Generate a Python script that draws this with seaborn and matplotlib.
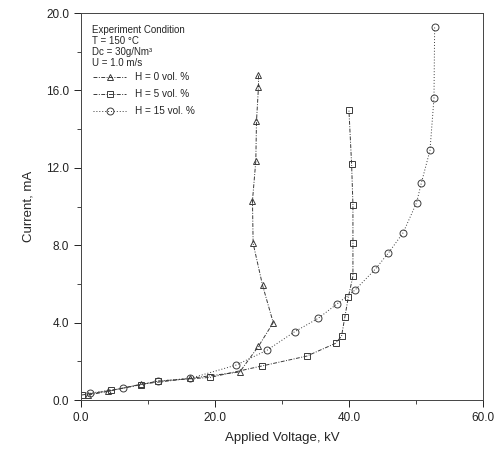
import matplotlib
matplotlib.use("Agg")
import matplotlib.pyplot as plt
import seaborn as sns
import pandas as pd
from matplotlib.ticker import MultipleLocator, FormatStrFormatter

# Data
h0_voltage = [1.1, 4.1, 9.0, 16.3, 23.7, 26.5, 28.7, 27.1, 25.7, 25.6, 26.1, 26.2, 26.5, 26.5]
h0_current = [0.26, 0.45, 0.82, 1.12, 1.45, 2.78, 4.0, 5.94, 8.1, 10.3, 12.35, 14.4, 16.2, 16.8]

h5_voltage = [0.1, 4.5, 9.0, 11.5, 19.3, 27.0, 33.7, 38.0, 38.9, 39.4, 39.9, 40.6, 40.6, 40.6, 40.4, 40.0]
h5_current = [0.26, 0.5, 0.8, 0.98, 1.17, 1.76, 2.27, 2.93, 3.3, 4.3, 5.3, 6.4, 8.1, 10.1, 12.2, 15.0]

h15_voltage = [1.3, 6.2, 11.5, 16.3, 23.2, 27.8, 31.9, 35.4, 38.2, 40.9, 43.9, 45.9, 48.1, 50.1, 50.8, 52.1, 52.7, 52.8]
h15_current = [0.35, 0.6, 0.98, 1.12, 1.81, 2.58, 3.53, 4.22, 4.96, 5.68, 6.75, 7.6, 8.65, 10.2, 11.2, 12.9, 15.6, 19.3]

labels = ["H = 0 vol. %", "H = 5 vol. %", "H = 15 vol. %"]
condition_lines = ["Experiment Condition", "T = 150 °C", "Dc = 30g/Nm³", "U = 1.0 m/s"]

frames = []
for lab, xs, ys in zip(labels, [h0_voltage, h5_voltage, h15_voltage],
                       [h0_current, h5_current, h15_current]):
    frames.append(pd.DataFrame({"Voltage": xs, "Current": ys, "H": lab}))
df = pd.concat(frames, ignore_index=True)

sns.set_theme(style="ticks")
plt.rcParams["font.family"] = ["Liberation Sans", "DejaVu Sans"]

fig = plt.figure(figsize=(5.03, 4.59), dpi=100)
ax = fig.add_axes([0.161, 0.1285, 0.799, 0.843])

line_col = "#3a3a3a"
sns.lineplot(data=df, x="Voltage", y="Current", hue="H", style="H",
             hue_order=labels, style_order=labels,
             palette=[line_col] * 3,
             markers={labels[0]: "^", labels[1]: "s", labels[2]: "o"},
             dashes={labels[0]: (4, 1.5, 1, 1.5), labels[1]: (4, 1.5, 1, 1.5), labels[2]: (1, 2)},
             sort=False, estimator=None,
             markersize=5, markerfacecolor="none", markeredgecolor=line_col,
             markeredgewidth=0.7, linewidth=0.7, ax=ax)

ax.set_xlim(0, 60)
ax.set_ylim(0, 20)
ax.xaxis.set_major_locator(MultipleLocator(20))
ax.xaxis.set_minor_locator(MultipleLocator(10))
ax.yaxis.set_major_locator(MultipleLocator(4))
ax.yaxis.set_minor_locator(MultipleLocator(2))
ax.xaxis.set_major_formatter(FormatStrFormatter("%.1f"))
ax.yaxis.set_major_formatter(FormatStrFormatter("%.1f"))
ax.tick_params(which="major", direction="out", length=5, width=0.7, labelsize=8.5, colors="#222222")
ax.tick_params(which="minor", direction="out", length=3, width=0.6)
for s in ax.spines.values():
    s.set_linewidth(0.7)
    s.set_color("#444444")

ax.set_xlabel("Applied Voltage, kV", fontsize=9.5, labelpad=6)
ax.set_ylabel("Current, mA", fontsize=9.5, labelpad=8)

for i, line in enumerate(condition_lines):
    ax.text(0.027, 0.956 - i * 0.0285, line, transform=ax.transAxes,
            fontsize=7.0, va="center", ha="left")

handles, labs = ax.get_legend_handles_labels()
ax.legend(handles=handles, labels=labs, loc="upper left",
          bbox_to_anchor=(0.02, 0.858), frameon=False, fontsize=7.2,
          handlelength=3.3, handletextpad=0.9, labelspacing=0.7,
          borderaxespad=0)

fig.savefig("out.png", dpi=100)
